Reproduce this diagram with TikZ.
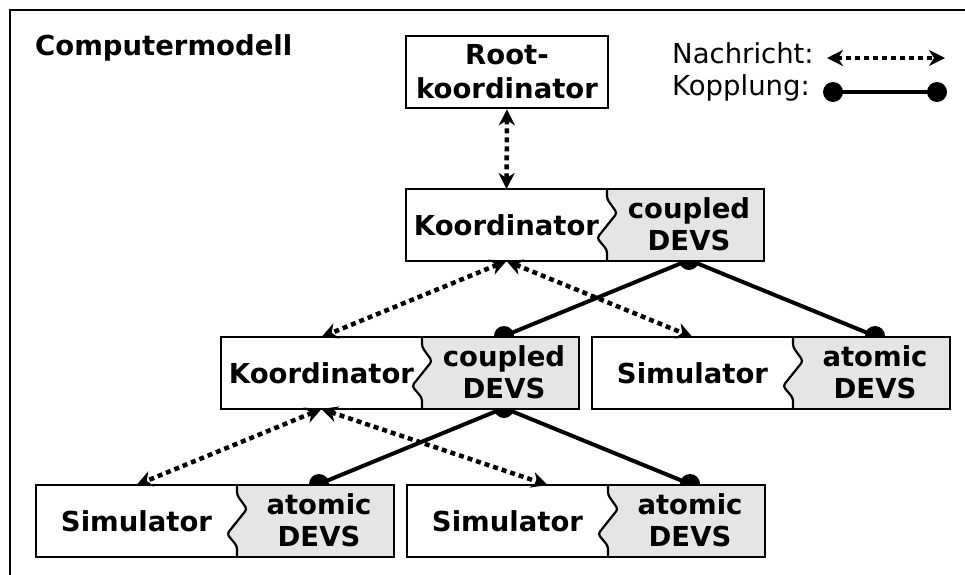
\documentclass[tikz,border=0pt]{standalone}
\usepackage{fontspec}
\setmainfont{DejaVu Sans}
\usetikzlibrary{arrows.meta,calc,backgrounds}
\definecolor{boxgray}{gray}{0.9}
\newcommand\fsz{\fontsize{27.5}{32}\selectfont}
\newcommand\splitbox[5]{%
  \node[boxbg] (#1) at (#2,#3) {};
  \path[fill=boxgray] ($(#1.north west)+(201,0)$) [rounded corners=3pt] -- ++(0,10) -- ++(10,14) -- ++(-20,25) -- ++(10,12) -- ($(#1.south west)+(201,0)$) [sharp corners] -- (#1.south east) -- (#1.north east) -- cycle;
  \draw[wavyline] ($(#1.north west)+(201,0)$) -- ++(0,10) -- ++(10,14) -- ++(-20,25) -- ++(10,12) -- ($(#1.south west)+(201,0)$);
  \draw[boxborder] (#1.north west) rectangle (#1.south east);
  \node[partl] (#1l) at ($(#1.north west)+(100.5,36)$) {#4};
  \node[partr] (#1r) at ($(#1.north west)+(283,35)$) {#5};
}
\begin{document}
\begin{tikzpicture}[x=1pt,y=-1pt,
  frameline/.style={line width=2.5pt, line join=miter},
  boxbg/.style={fill=white, minimum width=358pt, minimum height=72pt, inner sep=0pt, outer sep=0pt, anchor=north west},
  boxborder/.style={draw, line width=2.5pt},
  wavyline/.style={line width=2.2pt, rounded corners=3pt},
  partl/.style={font=\fsz\bfseries, minimum width=201pt, minimum height=72pt, inner sep=0pt, outer sep=0pt, align=center},
  partr/.style={font=\fsz\bfseries, minimum width=146pt, minimum height=72pt, inner sep=0pt, outer sep=0pt, align=center},
  msg/.style={line width=4.5pt, dash pattern=on 5pt off 4pt, {Stealth[length=16pt,width=16pt,inset=5pt]}-{Stealth[length=16pt,width=16pt,inset=5pt]}},
  couple/.style={line width=4pt},
  cdot/.style={fill=black},
  legendtext/.style={font=\fsz, inner sep=0pt, anchor=base west},
]
\useasboundingbox (0,0) rectangle (965,574);
\draw[frameline] (10,580) -- (10,10) -- (970,10);

\node[font=\fsz\bfseries, inner sep=0pt, anchor=base west] (title) at (35,55) {Computermodell};

\node[draw, line width=2.5pt, fill=white, minimum width=202pt, minimum height=72pt, inner sep=0pt, align=center, font=\fsz\bfseries] (root) at (507,72) {Root-\\[2pt]koordinator};

\splitbox{k1}{406}{189}{Koordinator}{coupled\\DEVS}
\splitbox{k2}{221}{337}{Koordinator}{coupled\\DEVS}
\splitbox{sm}{592}{337}{Simulator}{atomic\\DEVS}
\splitbox{ba}{36}{485}{Simulator}{atomic\\DEVS}
\splitbox{bb}{407}{485}{Simulator}{atomic\\DEVS}

% couplings (behind boxes)
\begin{pgfonlayer}{background}
\draw[couple] (k1r.south) -- (k2r.north);
\draw[couple] (k1r.south) -- (smr.north);
\draw[couple] (k2r.south) -- (bar.north);
\draw[couple] (k2r.south) -- (bbr.north);
\fill[cdot] (k1r.south) circle (10);
\fill[cdot] (k2r.north) circle (10);
\fill[cdot] (smr.north) circle (10);
\fill[cdot] (k2r.south) circle (10);
\fill[cdot] (bar.north) circle (10);
\fill[cdot] (bbr.north) circle (10);
\end{pgfonlayer}

% messages
\coordinate (bbin) at ($(bbl.north)+(40,0)$);
\draw[msg] (root.south) -- (k1l.north);
\draw[msg] (k1l.south) -- (k2l.north);
\draw[msg] (k1l.south) -- (sml.north);
\draw[msg] (k2l.south) -- (bal.north);
\draw[msg] (k2l.south) -- (bbin);

% legend
\node[legendtext] (nach) at (672,63) {Nachricht:};
\node[legendtext] (kopp) at (672,95) {Kopplung:};
\coordinate (na) at (827,58);
\coordinate (nb) at (945,58);
\draw[msg] (na) -- (nb);
\coordinate (ka) at (833,92);
\coordinate (kb) at (937,92);
\draw[couple] (ka) -- (kb);
\fill[cdot] (ka) circle (10);
\fill[cdot] (kb) circle (10);
\end{tikzpicture}
\end{document}
